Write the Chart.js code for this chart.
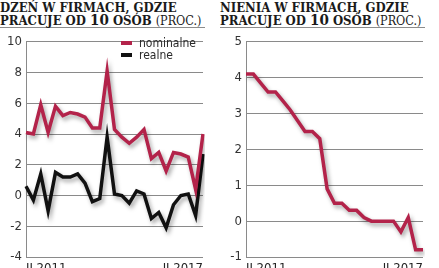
<!DOCTYPE html>
<html>
<head>
<meta charset="utf-8">
<script src="https://cdn.jsdelivr.net/npm/chart.js@4"></script>
<style>
  html, body { margin: 0; padding: 0; background: #fff; width: 439px; height: 268px; overflow: hidden; }
  .panel { position: absolute; top: 0; width: 219px; height: 268px; }
  .title {
    position: absolute; left: 0; top: 0; width: 205px;
    font-family: 'DejaVu Serif', serif; font-weight: bold; font-stretch: condensed;
    font-size: 13px; line-height: 12px; color: #1a1a1a; white-space: nowrap;
    border-bottom: 1.5px solid #8c8c8c; padding-top: 2px; box-sizing: border-box; height: 28px;
  }
  .title .num { font-size: 15px; }
  .title .light { font-weight: normal; font-size: 12.5px; }
  canvas { position: absolute; left: 0; top: 30px; }
  .legend { position: absolute; left: 121px; top: 37px; font-family: 'Liberation Sans Narrow', 'DejaVu Sans Condensed', sans-serif; font-size: 12px; color: #2a2a2a; line-height: 12px; }
  .legend div { height: 12px; white-space: nowrap; }
  .legend span.sw { display: inline-block; width: 11px; height: 4px; vertical-align: middle; margin-right: 7px; position: relative; top: -1px; }
</style>
</head>
<body>
<div class="panel" style="left:0">
  <div class="title">DZEŃ W FIRMACH, GDZIE<br>PRACUJE OD <span class="num">10</span> OSÓB <span class="light">(PROC.)</span></div>
  <canvas id="wagesChart" width="219" height="241"></canvas>
  <div class="legend">
    <div><span class="sw" style="background:#b3234a"></span>nominalne</div>
    <div><span class="sw" style="background:#111"></span>realne</div>
  </div>
</div>
<div class="panel" style="left:220px">
  <div class="title">NIENIA W FIRMACH, GDZIE<br>PRACUJE OD <span class="num">10</span> OSÓB <span class="light">(PROC.)</span></div>
  <canvas id="jobsChart" width="219" height="241"></canvas>
</div>
<script>
// kwartaly od II 2011 do II 2017
var quarters = [];
var romans = ['I', 'II', 'III', 'IV'];
for (var y = 2011; y <= 2017; y++) {
    for (var q = 0; q < 4; q++) {
        if ((y === 2011 && q === 0) || (y === 2017 && q > 1)) continue;
        quarters.push(romans[q] + ' ' + y);
    }
}

var nominalne = [4.1, 4.0, 5.9, 4.1, 5.8, 5.2, 5.4, 5.3, 5.1, 4.4, 4.4, 8.1, 4.3, 3.8, 3.4, 3.8, 4.3, 2.4, 2.8, 1.6, 2.8, 2.7, 2.5, 0.4, 4.0];
var realne = [0.6, -0.3, 1.4, -1.0, 1.5, 1.2, 1.2, 1.4, 0.8, -0.4, -0.2, 3.8, 0.1, 0.0, -0.5, 0.3, 0.1, -1.5, -1.1, -2.1, -0.6, 0.0, 0.1, -1.3, 2.7];
var zatrudnienie = [4.1, 4.1, 3.85, 3.6, 3.6, 3.35, 3.1, 2.8, 2.5, 2.5, 2.3, 0.9, 0.5, 0.5, 0.3, 0.3, 0.1, 0.0, 0.0, 0.0, 0.0, -0.3, 0.1, -0.8, -0.8];

var tickFont = { family: "'Liberation Sans Narrow', 'DejaVu Sans Condensed', sans-serif", size: 13 };

// cien pod liniami
var shadowPlugin = {
    id: 'shadow',
    beforeDatasetDraw: function (chart) {
        var c = chart.ctx;
        c.save();
        c.shadowColor = 'rgba(0,0,0,0.35)';
        c.shadowBlur = 4;
        c.shadowOffsetX = 2;
        c.shadowOffsetY = 3;
    },
    afterDatasetDraw: function (chart) {
        chart.ctx.restore();
    }
};

function makeOptions(min, max, step) {
    return {
        responsive: false,
        animation: false,
        layout: { padding: { top: 8, right: 16, left: 0, bottom: 0 } },
        plugins: { legend: { display: false }, tooltip: { enabled: false } },
        elements: { point: { radius: 0 }, line: { tension: 0, borderWidth: 3.5 } },
        scales: {
            x: {
                offset: false,
                grid: { display: false, drawTicks: false },
                border: { display: false },
                afterFit: function (s) { s.height = 14; },
                ticks: {
                    autoSkip: false, maxRotation: 0, align: 'inner', padding: 4,
                    color: '#222', font: tickFont,
                    callback: function (v, i) {
                        return (i === 0 || i === quarters.length - 1) ? quarters[i] : '';
                    }
                }
            },
            y: {
                min: min, max: max,
                afterFit: function (s) { s.width = 26; },
                grid: { color: '#8a8a8a', lineWidth: 1, drawTicks: false },
                border: { color: '#8a8a8a', width: 1 },
                ticks: { stepSize: step, padding: 4, color: '#333', font: tickFont }
            }
        }
    };
}

var ctxWages = document.getElementById('wagesChart').getContext('2d');
var wagesChart = new Chart(ctxWages, {
    type: 'line',
    data: {
        labels: quarters,
        datasets: [{
            label: 'nominalne',
            data: nominalne,
            borderColor: '#b3234a'
        }, {
            label: 'realne',
            data: realne,
            borderColor: '#111111'
        }]
    },
    options: makeOptions(-4, 10, 2),
    plugins: [shadowPlugin]
});

var ctxJobs = document.getElementById('jobsChart').getContext('2d');
var jobsChart = new Chart(ctxJobs, {
    type: 'line',
    data: {
        labels: quarters,
        datasets: [{
            label: 'zatrudnienie',
            data: zatrudnienie,
            borderColor: '#b3234a'
        }]
    },
    options: makeOptions(-1, 5, 1),
    plugins: [shadowPlugin]
});
</script>
</body>
</html>
